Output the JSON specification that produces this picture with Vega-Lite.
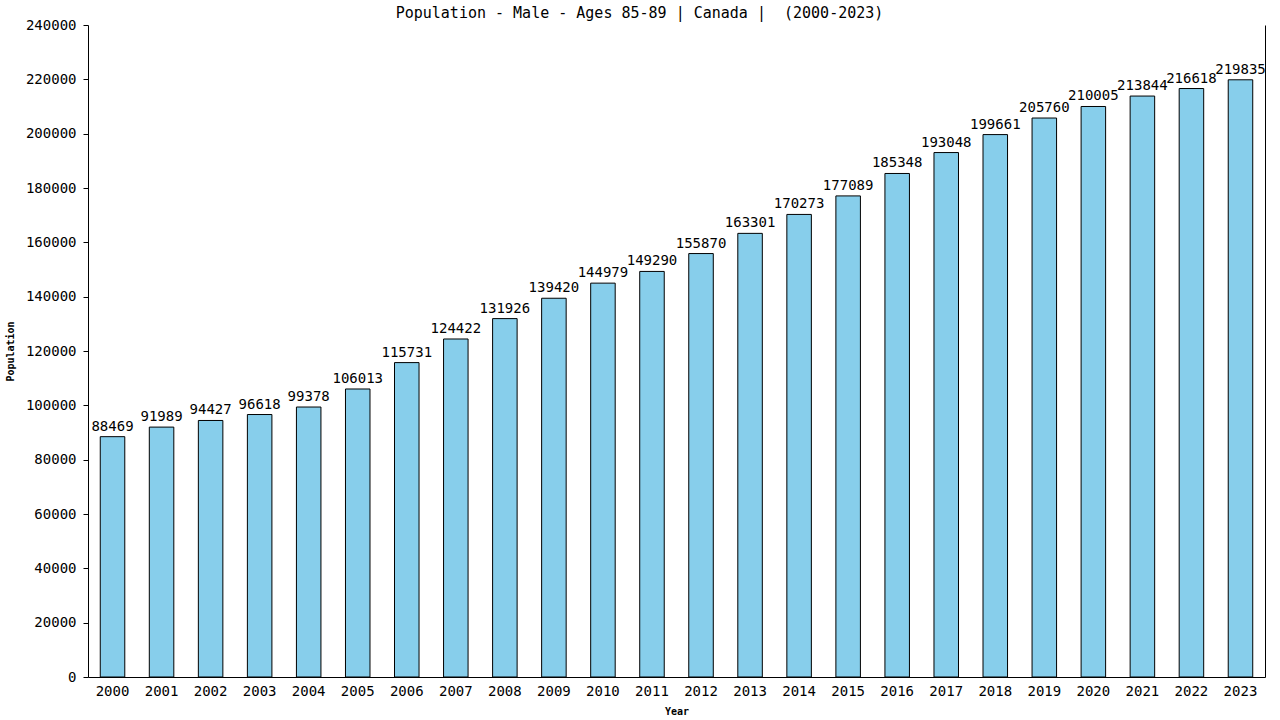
{
  "$schema": "https://vega.github.io/schema/vega-lite/v6.json",
  "autosize": {"type": "none"},
  "width": 1177,
  "height": 652,
  "padding": {"left": 88, "top": 25, "right": 15, "bottom": 43},
  "background": "white",
  "title": {
    "text": "Population - Male - Ages 85-89 | Canada | \u00a0(2000-2023)",
    "font": "DejaVu Sans Mono",
    "fontSize": 15,
    "fontWeight": "normal",
    "color": "black",
    "anchor": "middle",
    "dx": -37,
    "offset": -3
  },
  "data": {
    "values": [
      {"year": "2000", "population": 88469},
      {"year": "2001", "population": 91989},
      {"year": "2002", "population": 94427},
      {"year": "2003", "population": 96618},
      {"year": "2004", "population": 99378},
      {"year": "2005", "population": 106013},
      {"year": "2006", "population": 115731},
      {"year": "2007", "population": 124422},
      {"year": "2008", "population": 131926},
      {"year": "2009", "population": 139420},
      {"year": "2010", "population": 144979},
      {"year": "2011", "population": 149290},
      {"year": "2012", "population": 155870},
      {"year": "2013", "population": 163301},
      {"year": "2014", "population": 170273},
      {"year": "2015", "population": 177089},
      {"year": "2016", "population": 185348},
      {"year": "2017", "population": 193048},
      {"year": "2018", "population": 199661},
      {"year": "2019", "population": 205760},
      {"year": "2020", "population": 210005},
      {"year": "2021", "population": 213844},
      {"year": "2022", "population": 216618},
      {"year": "2023", "population": 219835}
    ]
  },
  "encoding": {
    "x": {
      "field": "year",
      "type": "ordinal",
      "title": "Year",
      "scale": {"paddingInner": 0.5, "paddingOuter": 0.25},
      "axis": {
        "labelAngle": 0,
        "ticks": false,
        "labelPadding": 7,
        "titlePadding": 8
      }
    },
    "y": {
      "field": "population",
      "type": "quantitative",
      "title": "Population",
      "scale": {"domain": [0, 240000]}
    }
  },
  "layer": [
    {
      "mark": {"type": "bar", "fill": "#87CEEB", "stroke": "black", "strokeWidth": 1},
      "encoding": {
        "y": {
          "field": "population",
          "type": "quantitative",
          "title": "Population",
          "scale": {"domain": [0, 240000]},
          "axis": {
            "values": [0, 20000, 40000, 60000, 80000, 100000, 120000, 140000, 160000, 180000, 200000, 220000, 240000],
            "format": "d",
            "grid": false,
            "tickSize": 5,
            "labelPadding": 7,
            "titlePadding": 10
          }
        }
      }
    },
    {
      "mark": {
        "type": "text",
        "baseline": "bottom",
        "dy": -3,
        "font": "DejaVu Sans Mono",
        "fontSize": 14,
        "color": "black"
      },
      "encoding": {
        "text": {"field": "population", "type": "quantitative", "format": "d"},
        "y": {
          "field": "population",
          "type": "quantitative",
          "axis": {
            "orient": "right",
            "labels": false,
            "ticks": false,
            "grid": false,
            "title": null
          }
        }
      }
    }
  ],
  "resolve": {"axis": {"y": "independent"}},
  "config": {
    "view": {"stroke": null},
    "axis": {
      "domainColor": "black",
      "tickColor": "black",
      "labelColor": "black",
      "titleColor": "black",
      "labelFont": "DejaVu Sans Mono",
      "labelFontSize": 14,
      "titleFont": "DejaVu Sans Mono",
      "titleFontSize": 10,
      "titleFontWeight": "bold"
    }
  }
}
